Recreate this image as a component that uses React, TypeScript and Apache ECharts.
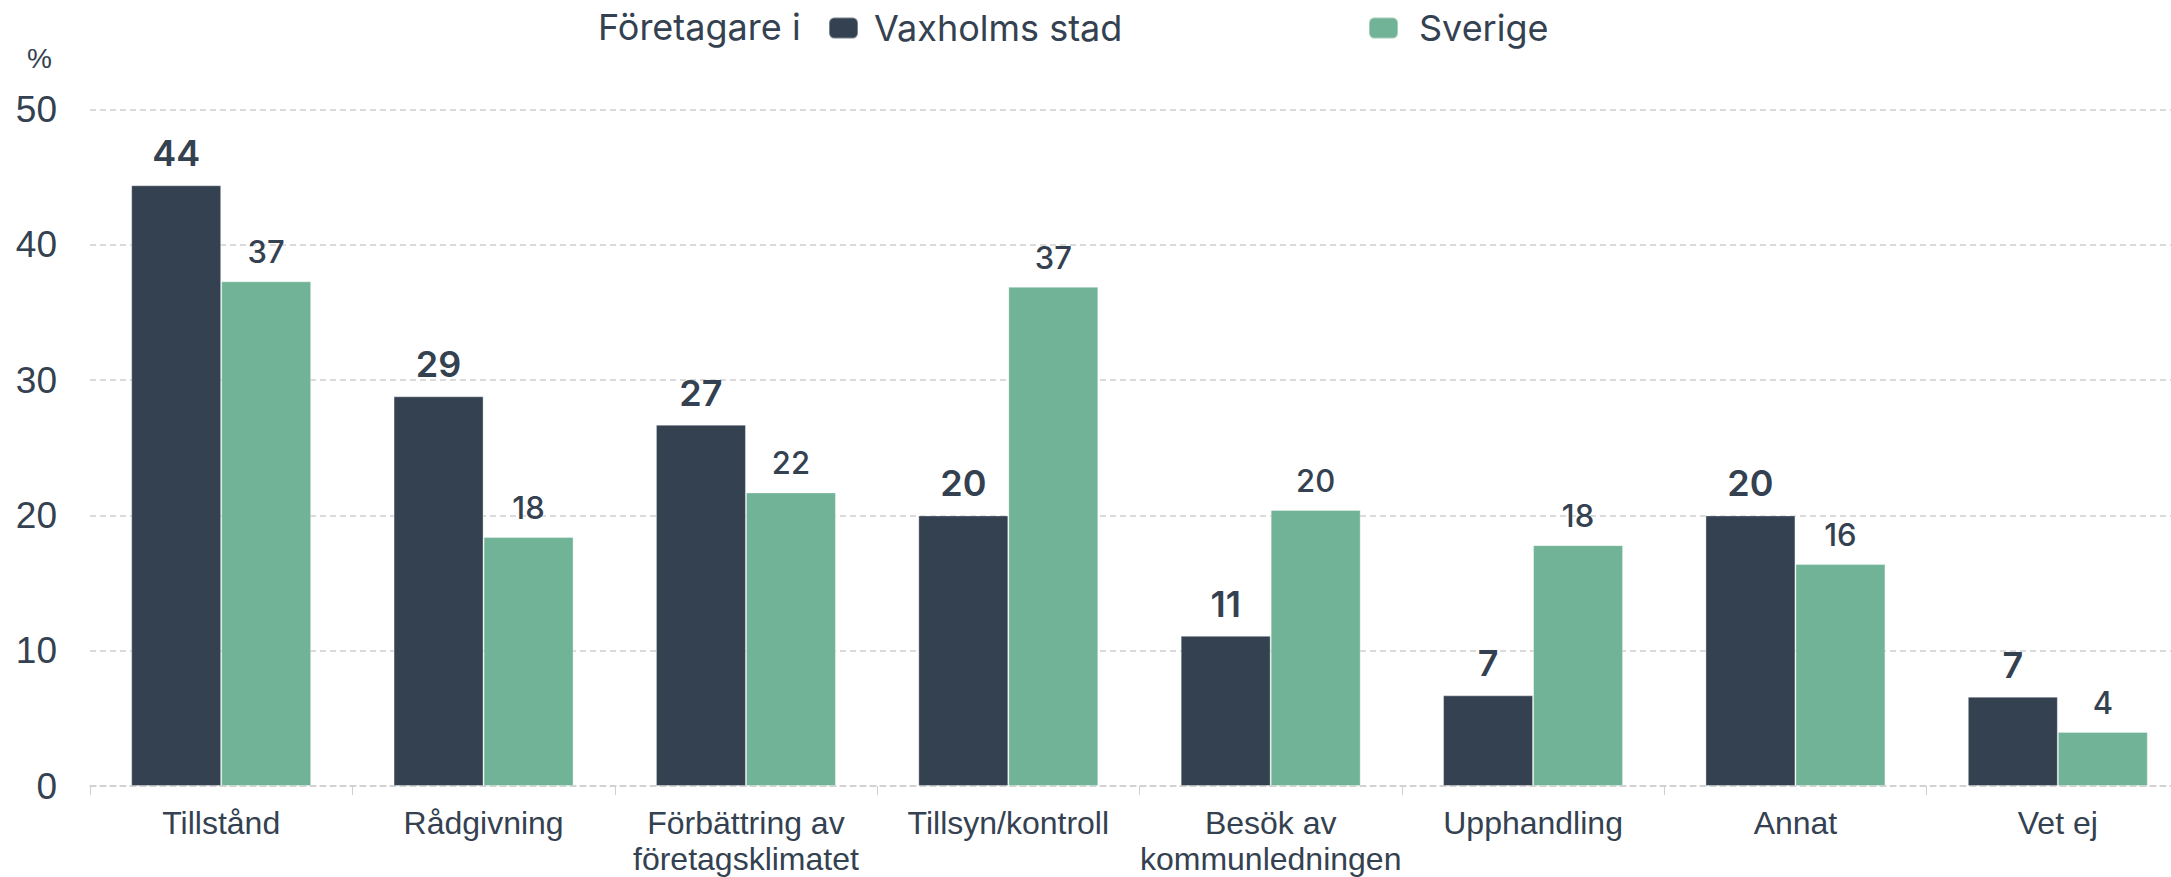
import React, { useEffect, useRef } from "react";
import * as echarts from "echarts";

const categories = [
  "Tillstånd",
  "Rådgivning",
  "Förbättring av\nföretagsklimatet",
  "Tillsyn/kontroll",
  "Besök av\nkommunledningen",
  "Upphandling",
  "Annat",
  "Vet ej",
];
const vaxholmValues = [44.4, 28.8, 26.7, 20.0, 11.1, 6.7, 20.0, 6.6];
const sverigeValues = [37.3, 18.4, 21.7, 36.9, 20.4, 17.8, 16.4, 4.0];
const seriesNames = ["Vaxholms stad", "Sverige"];
const legendPrefix = "Företagare i";
const yUnit = "%";
const yMin = 0;
const yMax = 50;
const yInterval = 10;

const DARK = "#334150";
const GREEN = "#71b396";
const TEXT = "#344150";
const GRID = "#cfcfcf";

export default function App() {
  const ref = useRef<HTMLDivElement>(null);
  useEffect(() => {
    if (!ref.current) return;
    const chart = echarts.init(ref.current, undefined, { renderer: "svg" });
    const labelFmt = (p: any) => String(Math.round(p.value));
    chart.setOption({
      animation: false,
      backgroundColor: "#ffffff",
      grid: {
        left: 90,
        right: 0,
        top: 109.5,
        bottom: 91,
        containLabel: false,
        outerBoundsMode: "none",
      },
      graphic: [
        {
          type: "text",
          left: 598,
          top: 9,
          style: { text: legendPrefix, fontSize: 36, fontFamily: "Inter", fill: TEXT },
        },
        {
          type: "text",
          left: 27,
          top: 44,
          style: { text: yUnit, fontSize: 28, fontFamily: "Liberation Sans", fill: TEXT },
        },
      ],
      legend: [
        {
          data: [seriesNames[0]],
          left: 823,
          top: 5,
          icon: "roundRect",
          itemWidth: 29,
          itemHeight: 21,
          textStyle: { fontSize: 36, fontFamily: "Inter", color: TEXT, padding: [0, 0, 0, 11] },
        },
        {
          data: [seriesNames[1]],
          left: 1363,
          top: 5,
          icon: "roundRect",
          itemWidth: 29,
          itemHeight: 21,
          textStyle: { fontSize: 36, fontFamily: "Inter", color: TEXT, padding: [0, 0, 0, 16] },
        },
      ],
      xAxis: {
        type: "category",
        data: categories,
        axisLine: { show: true, lineStyle: { color: GRID, type: [6, 4], width: 1.5 } },
        axisTick: { show: true, length: 9, lineStyle: { color: GRID } },
        axisLabel: {
          interval: 0,
          margin: 19,
          fontSize: 32,
          lineHeight: 36,
          fontFamily: "Liberation Sans",
          color: TEXT,
        },
      },
      yAxis: {
        type: "value",
        min: yMin,
        max: yMax,
        interval: yInterval,
        axisLine: { show: false },
        axisTick: { show: false },
        splitLine: { lineStyle: { color: GRID, type: [6, 4], width: 1.5 } },
        axisLabel: { margin: 33, fontSize: 37, fontFamily: "Liberation Sans", color: TEXT },
      },
      series: [
        {
          name: seriesNames[0],
          type: "bar",
          data: vaxholmValues,
          barGap: "0%",
          barCategoryGap: "31.4%",
          itemStyle: { color: DARK, borderColor: "rgba(255,255,255,0.35)", borderWidth: 1 },
          label: {
            show: true,
            position: "top",
            distance: 14,
            formatter: labelFmt,
            fontSize: 36,
            fontWeight: 600,
            fontFamily: "Inter",
            color: TEXT,
          },
        },
        {
          name: seriesNames[1],
          type: "bar",
          data: sverigeValues,
          barGap: "0%",
          barCategoryGap: "31.4%",
          itemStyle: { color: GREEN, borderColor: "rgba(255,255,255,0.35)", borderWidth: 1 },
          label: {
            show: true,
            position: "top",
            distance: 14,
            formatter: labelFmt,
            fontSize: 31,
            fontWeight: 500,
            fontFamily: "Inter",
            color: TEXT,
          },
        },
      ],
    });
    return () => chart.dispose();
  }, []);
  return (
    <div
      style={{
        position: "fixed",
        left: 0,
        top: 0,
        width: 2171,
        height: 877,
        overflow: "hidden",
        background: "#fff",
      }}
    >
      <div ref={ref} style={{ width: 2189, height: 877 }} />
    </div>
  );
}
